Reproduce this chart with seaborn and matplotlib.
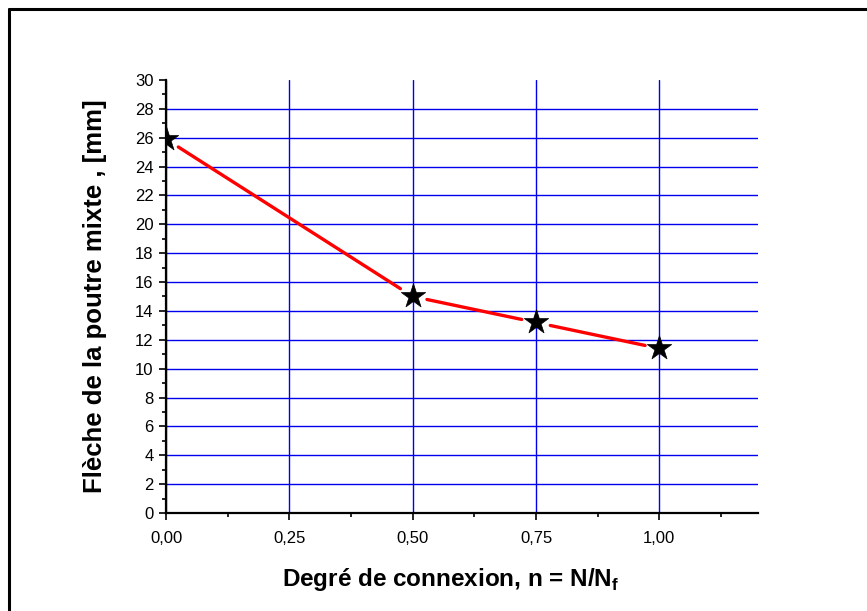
import matplotlib
matplotlib.use("Agg")
import matplotlib.pyplot as plt
import matplotlib.ticker as mticker
from matplotlib.lines import Line2D
import seaborn as sns
import pandas as pd

# degree of connexion vs deflection
degre = [0.0, 0.5, 0.75, 1.0]
fleche = [25.9, 15.0, 13.2, 11.4]
x_ticks = [0.0, 0.25, 0.5, 0.75, 1.0]
y_ticks = list(range(0, 31, 2))

df = pd.DataFrame({"n": degre, "f": fleche})

sns.set_style("white")
plt.rcParams["font.family"] = ["Liberation Sans", "DejaVu Sans"]
plt.rcParams["mathtext.fontset"] = "custom"
plt.rcParams["mathtext.rm"] = "Liberation Sans:bold"
plt.rcParams["mathtext.bf"] = "Liberation Sans:bold"
plt.rcParams["axes.labelcolor"] = "black"
plt.rcParams["text.color"] = "black"

fig = plt.figure(figsize=(8.67, 6.11), dpi=100)
ax = fig.add_axes([0.1915, 0.1604, 0.6828, 0.7087])

ax.set_xlim(0, 1.2)
ax.set_ylim(0, 30)
ax.set_xticks(x_ticks)
ax.set_yticks(y_ticks)
ax.xaxis.set_minor_locator(mticker.MultipleLocator(0.125))
ax.yaxis.set_minor_locator(mticker.MultipleLocator(1))
ax.xaxis.set_major_formatter(mticker.FuncFormatter(lambda v, p: f"{v:.2f}".replace(".", ",")))

ax.grid(True, which="major", color="#0000ee", linewidth=1.0)
ax.yaxis.get_gridlines()[-1].set_visible(False)
ax.set_axisbelow(True)

# red segments with gaps around the symbols
for i in range(len(degre) - 1):
    ax.annotate("", xy=(degre[i + 1], fleche[i + 1]), xytext=(degre[i], fleche[i]),
                arrowprops=dict(arrowstyle="-", color="red", lw=2.4,
                                shrinkA=10.5, shrinkB=10.5))

sns.scatterplot(data=df, x="n", y="f", marker="*", s=340, color="black",
                edgecolor="black", linewidth=0.5, zorder=5, ax=ax, clip_on=True)

for side in ["top", "right"]:
    ax.spines[side].set_visible(False)
for side in ["left", "bottom"]:
    ax.spines[side].set_color("black")
    ax.spines[side].set_linewidth(1.6)

ax.tick_params(which="major", direction="out", length=5, width=1.2, labelsize=12,
               colors="black", left=True, bottom=True)
ax.tick_params(axis="x", which="major", pad=8)
ax.tick_params(axis="y", which="major", pad=4)
ax.tick_params(which="minor", direction="out", length=3, width=1.2, left=True, bottom=True,
               colors="black")

ax.set_xlabel("Degré de connexion, n = N/N$_{\\mathbf{f}}$", fontsize=17.5,
              fontweight="bold", color="black")
ax.xaxis.set_label_coords(0.48, -0.122)
ax.set_ylabel("Flèche de la poutre mixte , [mm]", fontsize=18.5,
              fontweight="bold", labelpad=20, color="black")

# frame around the figure (top and left edges visible)
fig.add_artist(Line2D([9 / 867, 9 / 867], [0, 1 - 9 / 611], color="black", lw=2.2,
                      transform=fig.transFigure))
fig.add_artist(Line2D([9 / 867, 1], [1 - 9 / 611, 1 - 9 / 611], color="black", lw=2.2,
                      transform=fig.transFigure))

fig.savefig("out.png", dpi=100)
